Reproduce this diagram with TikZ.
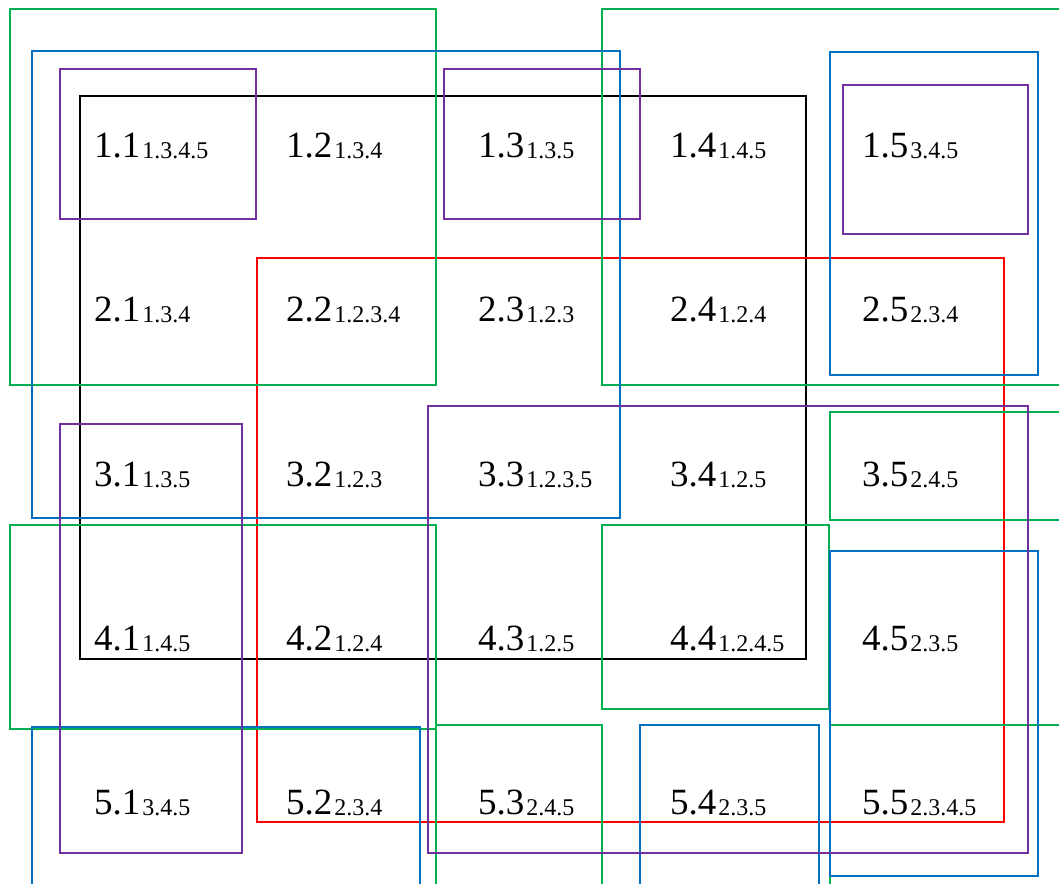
\documentclass[tikz,border=0pt]{standalone}
\usepackage{fontspec}
\setmainfont{Liberation Serif}
\definecolor{gGreen}{RGB}{0,176,80}
\definecolor{gBlue}{RGB}{0,112,192}
\definecolor{gPurple}{RGB}{112,48,160}
\definecolor{gRed}{RGB}{255,0,0}
\tikzset{
  frame/.style={line width=2.8pt},
  cell/.style={anchor=base west, inner sep=0pt, outer sep=0pt},
}
\newcommand{\cellnum}[2]{{\fontsize{37}{40}\selectfont #1}\hspace{2pt}\raisebox{-1.5pt}{\fontsize{24}{26}\selectfont #2}}
\begin{document}
\begin{tikzpicture}[x=1pt,y=-1pt]
\useasboundingbox (0,0) rectangle (1059,883);
\clip (0,0) rectangle (1059,883);
% black
\draw[frame,black] (80,96) rectangle (806,659);
% red
\draw[frame,gRed] (257,258) rectangle (1004,822);
% green
\draw[frame,gGreen] (10,9) rectangle (436,385);
\draw[frame,gGreen] (602,9) rectangle (1075,385);
\draw[frame,gGreen] (830,412) rectangle (1075,520);
\draw[frame,gGreen] (10,525) rectangle (436,729);
\draw[frame,gGreen] (602,525) rectangle (829,709);
\draw[frame,gGreen] (436,725) rectangle (602,900);
\draw[frame,gGreen] (830,725) rectangle (1075,900);
% blue
\draw[frame,gBlue] (32,51) rectangle (620,518);
\draw[frame,gBlue] (830,52) rectangle (1038,375);
\draw[frame,gBlue] (32,727) rectangle (420,900);
\draw[frame,gBlue] (640,725) rectangle (819,900);
\draw[frame,gBlue] (830,551) rectangle (1038,876);
% purple
\draw[frame,gPurple] (60,69) rectangle (256,219);
\draw[frame,gPurple] (444,69) rectangle (640,219);
\draw[frame,gPurple] (843,85) rectangle (1028,234);
\draw[frame,gPurple] (60,424) rectangle (242,853);
\draw[frame,gPurple] (428,406) rectangle (1028,853);
% labels
\node[cell] (c11) at (94,157) {\cellnum{1.1}{1.3.4.5}};
\node[cell] (c12) at (286,157) {\cellnum{1.2}{1.3.4}};
\node[cell] (c13) at (478,157) {\cellnum{1.3}{1.3.5}};
\node[cell] (c14) at (670,157) {\cellnum{1.4}{1.4.5}};
\node[cell] (c15) at (862,157) {\cellnum{1.5}{3.4.5}};
\node[cell] (c21) at (94,321) {\cellnum{2.1}{1.3.4}};
\node[cell] (c22) at (286,321) {\cellnum{2.2}{1.2.3.4}};
\node[cell] (c23) at (478,321) {\cellnum{2.3}{1.2.3}};
\node[cell] (c24) at (670,321) {\cellnum{2.4}{1.2.4}};
\node[cell] (c25) at (862,321) {\cellnum{2.5}{2.3.4}};
\node[cell] (c31) at (94,486) {\cellnum{3.1}{1.3.5}};
\node[cell] (c32) at (286,486) {\cellnum{3.2}{1.2.3}};
\node[cell] (c33) at (478,486) {\cellnum{3.3}{1.2.3.5}};
\node[cell] (c34) at (670,486) {\cellnum{3.4}{1.2.5}};
\node[cell] (c35) at (862,486) {\cellnum{3.5}{2.4.5}};
\node[cell] (c41) at (94,650) {\cellnum{4.1}{1.4.5}};
\node[cell] (c42) at (286,650) {\cellnum{4.2}{1.2.4}};
\node[cell] (c43) at (478,650) {\cellnum{4.3}{1.2.5}};
\node[cell] (c44) at (670,650) {\cellnum{4.4}{1.2.4.5}};
\node[cell] (c45) at (862,650) {\cellnum{4.5}{2.3.5}};
\node[cell] (c51) at (94,814) {\cellnum{5.1}{3.4.5}};
\node[cell] (c52) at (286,814) {\cellnum{5.2}{2.3.4}};
\node[cell] (c53) at (478,814) {\cellnum{5.3}{2.4.5}};
\node[cell] (c54) at (670,814) {\cellnum{5.4}{2.3.5}};
\node[cell] (c55) at (862,814) {\cellnum{5.5}{2.3.4.5}};
\end{tikzpicture}
\end{document}
